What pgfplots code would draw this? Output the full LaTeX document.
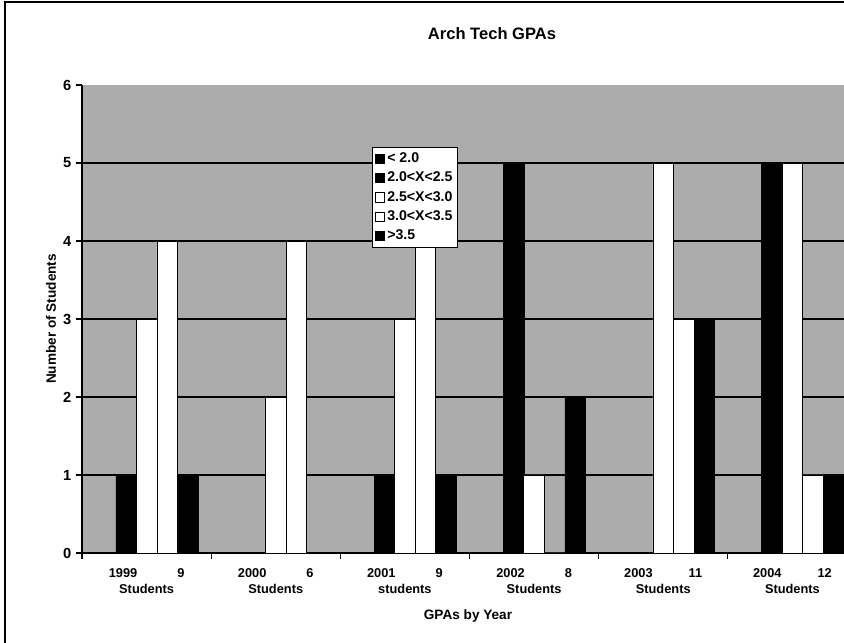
\documentclass[border=0pt]{standalone}
\usepackage{fontspec}
\setmainfont{Liberation Sans}
\usepackage{pgfplots}
\pgfplotsset{compat=1.18}
\definecolor{bggray}{RGB}{172,172,172}
\pgfplotsset{sqleg/.style={legend image code/.code={\draw[##1,draw=black,line width=0.5pt] (0pt,-3.4pt) rectangle (6.8pt,3.4pt);}}}
\begin{document}
\begin{tikzpicture}
\useasboundingbox (-61.5pt,-67.5pt) rectangle (571.5pt,414.75pt);
\fill[white] (-61.5pt,-67.5pt) rectangle (571.5pt,414.75pt);
\clip (-61.5pt,-67.5pt) rectangle (571.5pt,414.75pt);
\draw[line width=1.3pt] (-57.75pt,-67.5pt) -- (-57.75pt,413.25pt) -- (571.5pt,413.25pt);
\begin{axis}[
  at={(0,0)}, anchor=south west,
  scale only axis, width=581.25pt, height=351pt,
  ybar=0pt, bar width=15.4pt,
  xmin=-0.5, xmax=5.5, ymin=0, ymax=6,
  axis lines*=left,
  axis line style={black, line width=0.8pt},
  axis background/.style={fill=bggray},
  tick align=outside,
  xtick={0,...,5},
  xticklabels={{1999\hspace{30pt}9\\Students},{2000\hspace{30pt}6\\Students},{2001\hspace{30pt}9\\students},{2002\hspace{30pt}8\\Students},{2003\hspace{27pt}11\\Students},{2004\hspace{27pt}12\\Students}},
  xticklabel style={align=center, font=\bfseries\fontsize{9.6}{12}\selectfont, yshift=-3.5pt},
  major x tick style={draw=none},
  minor xtick={-0.5,0.5,...,5.5},
  minor x tick style={black, line width=0.8pt},
  minor tick length=4.5pt,
  ytick={0,...,6},
  yticklabels={0,1,2,3,4,5,6},
  major tick length=4.5pt,
  y tick style={black, line width=0.8pt},
  yticklabel style={font=\bfseries\fontsize{11}{12}\selectfont},
  extra y ticks={1,2,3,4,5},
  extra y tick labels={},
  extra y tick style={grid=major, major grid style={black, line width=0.9pt}},
  legend style={at={(0.374,0.8675)}, anchor=north west, draw=black, fill=white,
    font=\bfseries\fontsize{10.6}{12}\selectfont, legend cell align=left,
    row sep=1.6pt, inner sep=2pt, line width=0.6pt},
]
\addplot[fill=black, draw=black, sqleg] coordinates {(0,0) (1,0) (2,0) (3,0) (4,0) (5,0)};
\addplot[fill=black, draw=black, sqleg] coordinates {(0,1) (1,0) (2,1) (3,5) (4,0) (5,5)};
\addplot[fill=white, draw=black, line width=0.5pt, sqleg] coordinates {(0,3) (1,2) (2,3) (3,1) (4,5) (5,5)};
\addplot[fill=white, draw=black, line width=0.5pt, sqleg] coordinates {(0,4) (1,4) (2,4) (3,0) (4,3) (5,1)};
\addplot[fill=black, draw=black, sqleg] coordinates {(0,1) (1,0) (2,1) (3,2) (4,3) (5,1)};
\legend{< 2.0, 2.0<X<2.5, 2.5<X<3.0, 3.0<X<3.5, >3.5}
\end{axis}
\node[font=\bfseries\fontsize{12.4}{14}\selectfont] at (307.5pt,389.25pt) {Arch Tech GPAs};
\node[font=\bfseries\fontsize{10.2}{12}\selectfont] at (289.5pt,-47.25pt) {GPAs by Year};
\node[font=\bfseries\fontsize{10.2}{12}\selectfont, rotate=90] at (-23.25pt,175.5pt) {Number of Students};
\end{tikzpicture}
\end{document}
